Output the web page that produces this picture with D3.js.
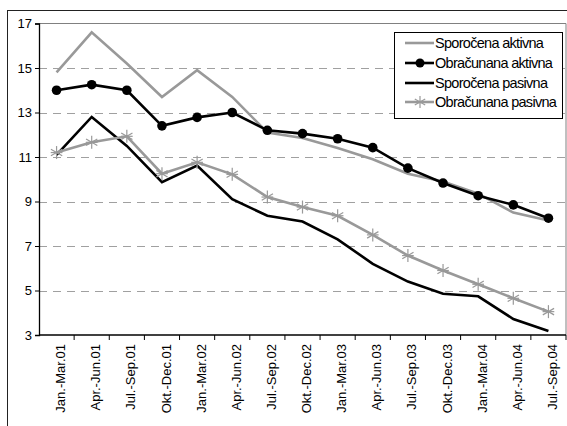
<!DOCTYPE html>
<html>
<head>
<meta charset="utf-8">
<script src="https://cdn.jsdelivr.net/npm/d3@7"></script>
<style>
  html, body { margin: 0; padding: 0; background: #fff; }
  svg { display: block; font-family: "Liberation Sans", Arial, sans-serif; }
</style>
</head>
<body>
<script>
// Quarterly periods
const categories = [
  "Jan.-Mar.01", "Apr.-Jun.01", "Jul.-Sep.01", "Okt.-Dec.01",
  "Jan.-Mar.02", "Apr.-Jun.02", "Jul.-Sep.02", "Okt.-Dec.02",
  "Jan.-Mar.03", "Apr.-Jun.03", "Jul.-Sep.03", "Okt.-Dec.03",
  "Jan.-Mar.04", "Apr.-Jun.04", "Jul.-Sep.04"
];

// Interest rates, %
const sporocenaAktivna   = [14.8, 16.6, 15.2, 13.7, 14.9, 13.7, 12.1, 11.85, 11.4, 10.9, 10.25, 9.9, 9.35, 8.5, 8.15];
const obracunanaAktivna  = [14.0, 14.25, 14.0, 12.4, 12.78, 13.0, 12.2, 12.05, 11.82, 11.42, 10.5, 9.83, 9.26, 8.85, 8.25];
const sporocenaPasivna   = [11.1, 12.8, 11.5, 9.87, 10.62, 9.1, 8.36, 8.1, 7.3, 6.2, 5.4, 4.85, 4.74, 3.72, 3.18];
const obracunanaPasivna  = [11.2, 11.66, 11.93, 10.25, 10.76, 10.22, 9.2, 8.75, 8.36, 7.5, 6.57, 5.9, 5.28, 4.65, 4.05];

const yTicks = [3, 5, 7, 9, 11, 13, 15, 17];

const seriesNames = ["Sporočena aktivna", "Obračunana aktivna", "Sporočena pasivna", "Obračunana pasivna"];

const W = 567, H = 426;
const GRAY = "#999999";

const svg = d3.select("body").append("svg")
  .attr("width", W).attr("height", H);

// chart area frame
svg.append("rect")
  .attr("x", 7.5).attr("y", 10.5)
  .attr("width", 580).attr("height", 440)
  .attr("fill", "#fff").attr("stroke", "#222").attr("stroke-width", 1);

const plot = { left: 39, right: 566, top: 23.5, bottom: 335 };

const x = d3.scaleBand().domain(categories).range([plot.left, plot.right]);
const y = d3.scaleLinear().domain([3, 17]).range([plot.bottom, plot.top]);
const cx = c => x(c) + x.bandwidth() / 2;

// plot area border (top and right)
svg.append("path")
  .attr("d", `M${plot.left},${plot.top}H${plot.right}V${plot.bottom}`)
  .attr("fill", "none").attr("stroke", "#808080").attr("stroke-width", 1);

// dashed gridlines
svg.append("g").selectAll("line")
  .data(yTicks.filter(t => t > 3 && t < 17))
  .join("line")
  .attr("x1", plot.left).attr("x2", plot.right)
  .attr("y1", d => Math.round(y(d)) + 0.5).attr("y2", d => Math.round(y(d)) + 0.5)
  .attr("stroke", "#a0a0a0").attr("stroke-width", 1)
  .attr("stroke-dasharray", "8,6");

// y axis
const yAxis = svg.append("g")
  .attr("transform", `translate(${plot.left},0)`)
  .call(d3.axisLeft(y).tickValues(yTicks).tickSize(4).tickPadding(3).tickFormat(d3.format("d")));
yAxis.select(".domain").attr("stroke", "#000").attr("stroke-width", 1.3);
yAxis.selectAll(".tick line").attr("stroke", "#000");
yAxis.selectAll("text").attr("font-size", 13).attr("fill", "#000")
  .attr("font-family", "'Liberation Sans', Arial, sans-serif");

// x axis with boundary ticks between categories
const xAxisG = svg.append("g").attr("transform", `translate(0,${plot.bottom})`);
xAxisG.append("line")
  .attr("x1", plot.left).attr("x2", plot.right)
  .attr("stroke", "#000").attr("stroke-width", 1.5);
xAxisG.selectAll("line.tk")
  .data(categories)
  .join("line").attr("class", "tk")
  .attr("x1", d => x(d) + x.bandwidth()).attr("x2", d => x(d) + x.bandwidth())
  .attr("y1", 0).attr("y2", 5)
  .attr("stroke", "#000").attr("stroke-width", 1);
xAxisG.selectAll("text")
  .data(categories)
  .join("text")
  .attr("transform", d => `translate(${cx(d) + 4},9) rotate(-90)`)
  .attr("text-anchor", "end")
  .attr("dy", "0.35em")
  .attr("font-size", 13)
  .attr("fill", "#000")
  .text(d => d);

// lines
const line = d3.line().x((d, i) => cx(categories[i])).y(d => y(d));

const styles = [
  { data: sporocenaAktivna,  color: GRAY,   width: 2.6, marker: null },
  { data: obracunanaAktivna, color: "#000", width: 2.6, marker: "dot" },
  { data: sporocenaPasivna,  color: "#000", width: 2.6, marker: null },
  { data: obracunanaPasivna, color: GRAY,   width: 2.6, marker: "star" }
];

function drawStar(g, px, py, r, color) {
  const angles = [90, 30, 150];
  angles.forEach(a => {
    const rad = a * Math.PI / 180;
    g.append("line")
      .attr("x1", px - r * Math.cos(rad)).attr("y1", py - r * Math.sin(rad))
      .attr("x2", px + r * Math.cos(rad)).attr("y2", py + r * Math.sin(rad))
      .attr("stroke", color).attr("stroke-width", 1.2);
  });
  g.append("line")
    .attr("x1", px - r * 0.9).attr("x2", px + r * 0.9)
    .attr("y1", py).attr("y2", py)
    .attr("stroke", color).attr("stroke-width", 1.2);
}

const series = svg.append("g");
styles.forEach(s => {
  series.append("path")
    .datum(s.data)
    .attr("d", line)
    .attr("fill", "none")
    .attr("stroke", s.color)
    .attr("stroke-width", s.width)
    .attr("stroke-linejoin", "miter");
  if (s.marker === "dot") {
    series.append("g").selectAll("circle")
      .data(s.data)
      .join("circle")
      .attr("cx", (d, i) => cx(categories[i]))
      .attr("cy", d => y(d))
      .attr("r", 4.8)
      .attr("fill", "#000");
  } else if (s.marker === "star") {
    const g = series.append("g");
    s.data.forEach((d, i) => drawStar(g, cx(categories[i]), y(d), 6.5, GRAY));
  }
});

// legend
const lg = svg.append("g");
lg.append("rect")
  .attr("x", 394.5).attr("y", 32.5)
  .attr("width", 168).attr("height", 86)
  .attr("fill", "#fff").attr("stroke", "#000").attr("stroke-width", 1);

const rowY = [43, 63, 83, 102];
styles.forEach((s, i) => {
  const yy = rowY[i];
  lg.append("line")
    .attr("x1", 405).attr("x2", 434)
    .attr("y1", yy).attr("y2", yy)
    .attr("stroke", s.color).attr("stroke-width", s.width);
  if (s.marker === "dot") {
    lg.append("circle").attr("cx", 420).attr("cy", yy).attr("r", 4.5).attr("fill", "#000");
  } else if (s.marker === "star") {
    drawStar(lg, 420, yy, 6, GRAY);
  }
  lg.append("text")
    .attr("x", 435).attr("y", yy)
    .attr("dy", "0.35em")
    .attr("font-size", 14.5)
    .attr("letter-spacing", -0.7)
    .attr("fill", "#000")
    .text(seriesNames[i]);
});
</script>
</body>
</html>
